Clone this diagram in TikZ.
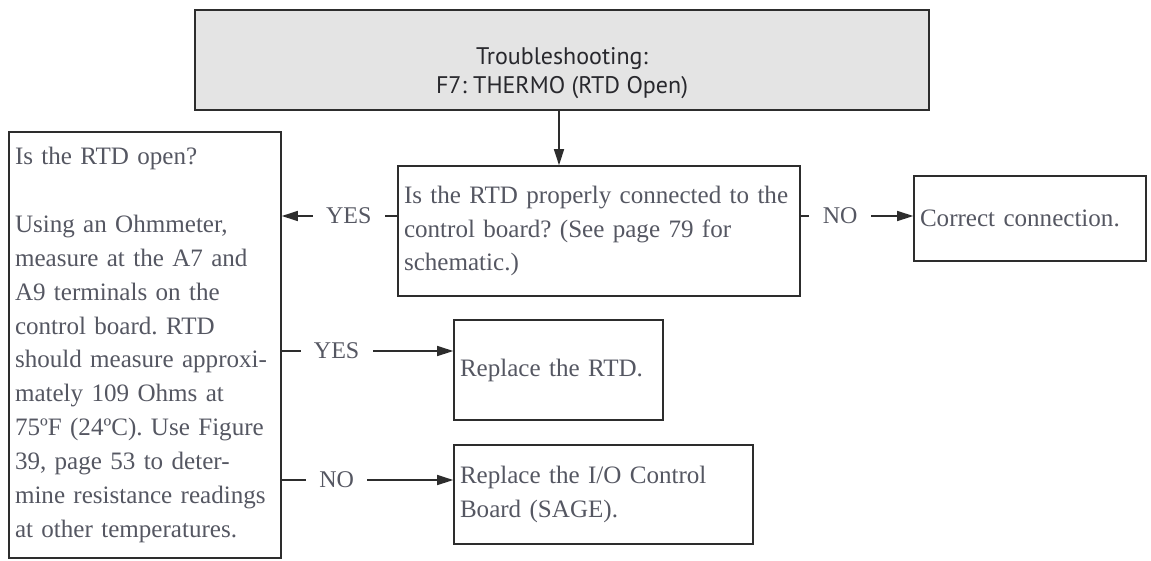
\documentclass[tikz,border=0pt]{standalone}
\usepackage{fontspec}
\setmainfont{Liberation Serif}
\setsansfont{PT Sans}
\usetikzlibrary{arrows.meta}

\definecolor{boxline}{RGB}{45,45,45}
\definecolor{titlefill}{RGB}{228,228,228}
\definecolor{bodytext}{RGB}{85,87,98}
\definecolor{titletext}{RGB}{40,40,45}

\tikzset{
	box/.style={draw=boxline, line width=1.2pt, inner xsep=4.5pt, align=left, text=bodytext,
		font=\fontsize{18.8}{25.4}\selectfont},
	titlebox/.style={draw=boxline, line width=1.6pt, fill=titlefill, align=center, text=titletext,
		font=\sffamily\fontsize{18}{21.5}\selectfont, minimum width=550.5pt, minimum height=75pt},
	answer/.style={fill=white, inner xsep=10pt, inner ysep=1pt, text=bodytext,
		font=\fontsize{18}{20}\selectfont},
	link/.style={draw=boxline, line width=1.2pt, ->},
}

\begin{document}
\frenchspacing\hyphenpenalty=10000
\begin{tikzpicture}[x=0.75pt, y=-0.75pt, >={Triangle[length=12pt,width=7.5pt]}]
				\useasboundingbox (0,0) rectangle (1151,560);
				
				\node[titlebox] (title) at (562,60) {\rule{0pt}{32pt}Troubleshooting:\\F7: THERMO (RTD Open)};
				
				\node[box, text width=292.5pt, minimum height=97.5pt] (ask) at (599,231)
					{Is the RTD properly connected to the\\control board? (See page 79 for\\schematic.)};
				\node[box, text width=195pt, minimum height=319.5pt] (open) at (145,345)
					{Is the RTD open?\\[25.4pt]Using an Ohmmeter,\\measure at the A7 and\\A9 terminals on the\\control board. RTD\\should measure approxi-\\mately 109 Ohms at\\75ºF (24ºC). Use Figure\\39, page 53 to deter-\\mine resistance readings\\at other temperatures.};
				\node[box, text width=165pt, minimum height=63.75pt] (fix) at (1030,218.5) {Correct connection.};
				\node[box, text width=147.75pt, minimum height=75pt] (rtd) at (558.5,370) {Replace the RTD.};
				\node[box, text width=215.25pt, minimum height=74.25pt] (board) at (603.5,494.5)
					{Replace the I/O Control\\Board (SAGE).};
				
				\coordinate (down) at (559,0);
				\coordinate (row1) at (0,216);
				\coordinate (row2) at (0,351);
				\coordinate (row3) at (0,480);
				
				\draw[link] (title.south -| down) -- (ask.north -| down);
				\draw[link] (ask.west |- row1) -- node[answer, pos=0.42] (y1) {YES} (open.east |- row1);
				\draw[link] (ask.east |- row1) -- node[answer, pos=0.35] (n1) {NO} (fix.west |- row1);
				\draw[link] (open.east |- row2) -- node[answer, pos=0.32] (y2) {YES} (rtd.west |- row2);
				\draw[link] (open.east |- row3) -- node[answer, pos=0.32] (n2) {NO} (board.west |- row3);
			\end{tikzpicture}
\end{document}
